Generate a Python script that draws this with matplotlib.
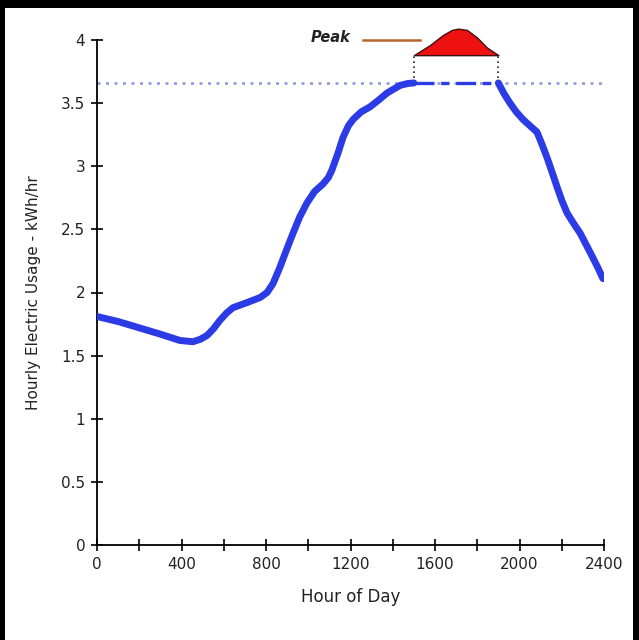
import matplotlib
matplotlib.use('Agg')
from matplotlib import pyplot as plt
from matplotlib.patches import Rectangle

# hourly usage
hours_am = [0, 100, 200, 300, 393, 454, 490, 521, 550, 582, 615, 644, 710, 772, 805, 833, 866,
            900, 928, 960, 994, 1030, 1070, 1095, 1112, 1140, 1165, 1190, 1212, 1250, 1292,
            1330, 1373, 1434, 1470, 1500]
usage_am = [1.81, 1.77, 1.72, 1.67, 1.62, 1.61, 1.63, 1.66, 1.71, 1.78, 1.84, 1.88, 1.92, 1.96, 2.00, 2.07, 2.20,
            2.35, 2.47, 2.60, 2.71, 2.80, 2.86, 2.91, 2.97, 3.10, 3.23, 3.32, 3.37, 3.43, 3.47,
            3.52, 3.58, 3.64, 3.655, 3.66]
hours_pm = [1900, 1925, 1955, 1985, 2017, 2050, 2083, 2105, 2130, 2155, 2177, 2200, 2225,
            2255, 2287, 2340, 2370, 2395]
usage_pm = [3.66, 3.58, 3.50, 3.43, 3.37, 3.32, 3.27, 3.18, 3.07, 2.95, 2.84, 2.73, 2.63,
            2.55, 2.47, 2.30, 2.20, 2.11]

cap = 3.66
peak_base = 3.88
peak_hours = [1500, 1576, 1638, 1680, 1710, 1751, 1799, 1846, 1900]
peak_vals = [3.88, 3.96, 4.04, 4.08, 4.09, 4.08, 4.02, 3.94, 3.88]

xticks = list(range(0, 2401, 200))
xlabels = ['0' if t == 0 else (str(t) if t % 400 == 0 else '') for t in xticks]
yticks = [0, 0.5, 1, 1.5, 2, 2.5, 3, 3.5, 4]
ylabels = ['0', '0.5', '1', '1.5', '2', '2.5', '3', '3.5', '4']

fig = plt.figure(figsize=(6.39, 6.40), dpi=100, facecolor='black')
bg = Rectangle((5 / 639, 0), 628 / 639, 632 / 640, transform=fig.transFigure,
               facecolor='white', edgecolor='none', zorder=-10)
fig.add_artist(bg)
ax = fig.add_axes([97 / 639, 95 / 640, 507 / 639, 505 / 640])
ax.set_zorder(5)
ax.patch.set_alpha(0)

blue = '#2b3be6'
ax.axhline(cap, xmin=0, xmax=1, color='#8a94e2', lw=1.8, ls=(0, (1.2, 2.2)), zorder=1)
ax.plot(hours_am, usage_am, color=blue, lw=5, solid_capstyle='round',
        solid_joinstyle='round', zorder=3)
ax.plot(hours_pm, usage_pm, color=blue, lw=5, solid_capstyle='round',
        solid_joinstyle='round', zorder=3)
ax.plot([hours_am[-1], hours_pm[0]], [cap, cap], color=blue, lw=2.4,
        ls=(0, (6, 2, 2.5, 2)), zorder=2)

# peak shaved off and lifted above the cap
ax.fill_between(peak_hours, peak_base, peak_vals, facecolor='#ee1111', edgecolor='#401010',
                lw=1.0, clip_on=False, zorder=4)
for h in (peak_hours[0], peak_hours[-1]):
    ax.plot([h, h], [cap, peak_base], color='#222222', lw=1.2, ls=(0, (1, 2)), zorder=2)

ax.plot([1259, 1529], [4.0, 4.0], color='#b5672c', lw=1.8, clip_on=False)
ax.text(1108, 4.02, 'Peak', ha='center', va='center', fontsize=10.5, style='italic',
        fontweight='semibold', color='#222222')

ax.set_xlim(0, 2400)
ax.set_ylim(0, 4)
ax.set_xticks(xticks)
ax.set_xticklabels(xlabels, fontsize=11)
ax.set_yticks(yticks)
ax.set_yticklabels(ylabels, fontsize=11)
ax.tick_params(direction='inout', length=9, width=1.2, pad=4, labelcolor='#222222')
for side in ('top', 'right'):
    ax.spines[side].set_visible(False)
for side in ('left', 'bottom'):
    ax.spines[side].set_linewidth(1.3)

ax.set_xlabel('Hour of Day', fontsize=12, labelpad=12, color='#222222')
ax.set_ylabel('Hourly Electric Usage - kWh/hr', fontsize=11, labelpad=14, color='#222222')

fig.savefig('out.png', dpi=100, facecolor=fig.get_facecolor())
